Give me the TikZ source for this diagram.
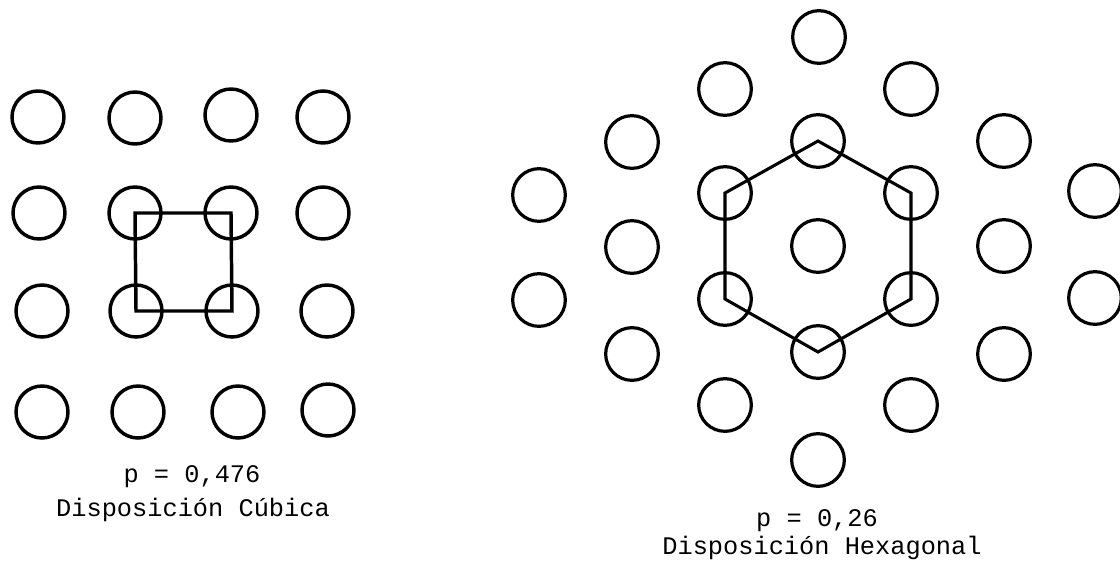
\documentclass[tikz,border=0pt]{standalone}
\usepackage{fontspec}
\setmonofont{Liberation Mono}
\begin{document}
\begin{tikzpicture}[x=0.75pt,y=-0.75pt,
  ball/.style={circle,draw,line width=2.6pt,minimum size=39pt,inner sep=0pt},
  hball/.style={ball,line width=2.4pt,minimum size=39.5pt},
  frame/.style={line width=2.6pt,line join=miter},
  hframe/.style={line width=2.3pt,line join=miter},
  lbl/.style={font=\ttfamily\fontsize{19}{22}\selectfont,inner sep=0pt}]
\useasboundingbox (0,0) rectangle (1120,565);
% cubic arrangement
\foreach \x/\y/\n in {38/117/11,135/118/12,231/115/13,323/117/14,
                      39/213/21,135/213/22,231/213/23,323/213/24,
                      42/311/31,136/311/32,232/311/33,327/311/34,
                      42/412/41,138/412/42,238/412/43,328/410/44}
  \node[ball] (c\n) at (\x,\y) {};
\draw[frame] (c22.center) -- (c23.center) -- (c33.center) -- (c32.center) -- cycle;
% hexagonal arrangement
\foreach \x/\y/\n in {819/37/a1,818/141/a2,818/246/a3,818/352/a4,818/460/a5,
                      725/89/b1,725/193/b2,725/299/b3,725/405/b4,
                      911/89/e1,911/193/e2,911/299/e3,911/405/e4,
                      632/142/f1,632/247/f2,632/354/f3,
                      1004/141/g1,1004/246/g2,1004/354/g3,
                      539/195/h1,539/300/h2,
                      1095/191/k1,1095/298/k2}
  \node[hball] (h\n) at (\x,\y) {};
\draw[hframe] (ha2.center) -- (he2.center) -- (he3.center) -- (ha4.center) -- (hb3.center) -- (hb2.center) -- cycle;
% labels
\node[lbl] (p1) at (192,477) {p = 0,476};
\node[lbl] (d1) at (193,510) {Disposición Cúbica};
\node[lbl] (p2) at (817,521) {p = 0,26};
\node[lbl] (d2) at (822,548) {Disposición Hexagonal};
\end{tikzpicture}
\end{document}
